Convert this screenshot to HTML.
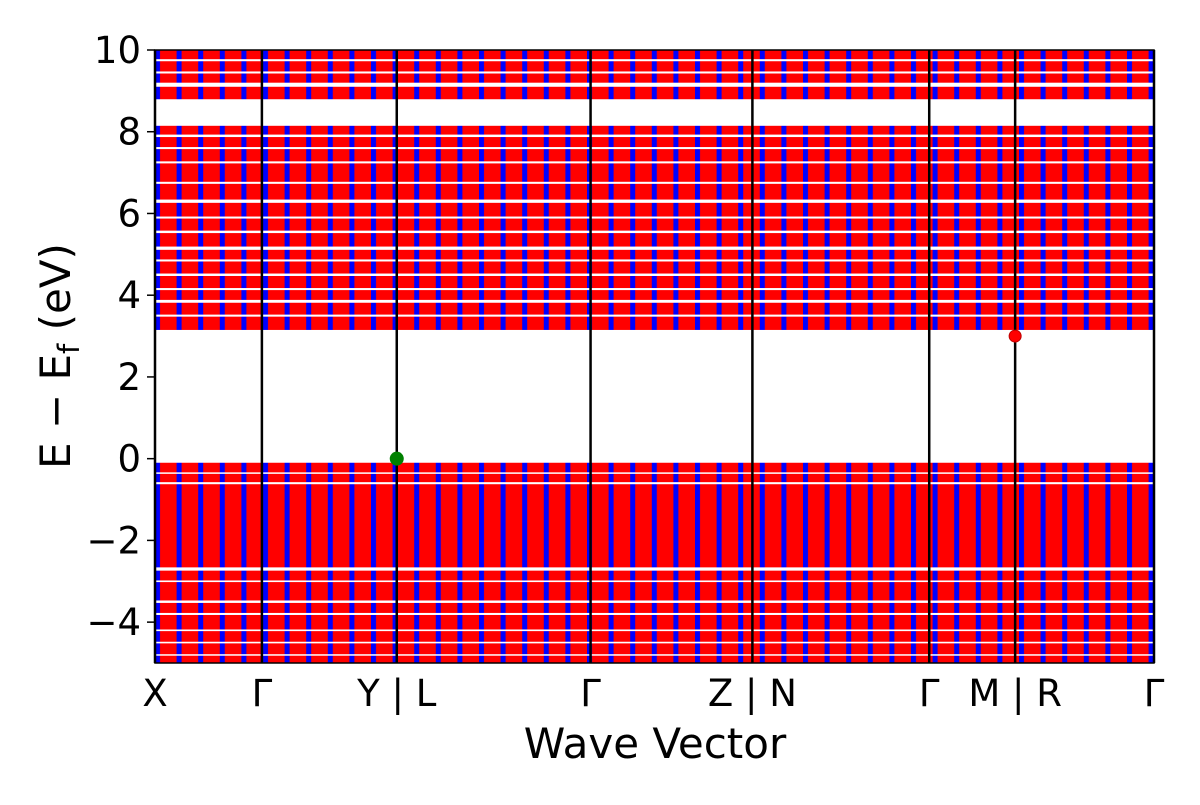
<!DOCTYPE html>
<html><head><meta charset="utf-8"><style>
body{margin:0;background:#fff;width:1200px;height:800px;overflow:hidden}
text{font-family:"DejaVu Sans","Liberation Sans",sans-serif;fill:#000}
</style></head><body>
<svg id="c" width="1200" height="800">
<defs>
<pattern id="stripes" x="155" y="0" width="21.6" height="10" patternUnits="userSpaceOnUse">
<rect width="21.6" height="10" fill="#ff0000"/><rect x="0" width="5" height="10" fill="#0000ff"/>
</pattern>
</defs>
<g id="plot"></g>
<g id="axes"></g>
</svg>
<script>
const kLabels=["X","Γ","Y | L","Γ","Z | N","Γ","M | R","Γ"];
const kPos=[0,0.107,0.242,0.436,0.598,0.775,0.861,1.0];
const yTicks=[-4,-2,0,2,4,6,8,10];
const valenceRange=[-5,-0.1];
const conductionRange=[3.15,10];
const gapCenters=[9.75,9.45,9.15,8.47,7.9,7.6,7.25,6.75,6.3,5.9,5.55,5.15,4.85,4.5,4.15,3.85,3.5,-0.35,-0.6,-2.7,-3.0,-3.5,-3.8,-4.2,-4.5,-4.8];
const gapWidths=[0.05,0.05,0.1,0.65,0.06,0.05,0.05,0.05,0.08,0.05,0.06,0.08,0.05,0.06,0.05,0.07,0.05,0.03,0.05,0.08,0.04,0.06,0.05,0.04,0.04,0.03];
const vbm=[0.242,0]; const cbm=[0.861,3.0];
const X0=155,X1=1154,Y0=50,Y1=663;
const sx=k=>X0+k*(X1-X0);
const sy=e=>Y0+(10-e)/15*(Y1-Y0);
const NS="http://www.w3.org/2000/svg";
function mk(t,a,p){const e=document.createElementNS(NS,t);for(const k in a)e.setAttribute(k,a[k]);p.appendChild(e);return e;}
const plot=document.getElementById('plot'),axes=document.getElementById('axes');
[valenceRange,conductionRange].forEach(r=>{
 const b=mk('rect',{x:X0,y:sy(r[1]),width:X1-X0,height:sy(r[0])-sy(r[1]),fill:'url(#stripes)'},plot);
 
 
});
gapCenters.forEach((g,i)=>{
 const r=mk('rect',{x:X0,y:sy(g+gapWidths[i]/2),width:X1-X0,height:Math.max(1.5,sy(g-gapWidths[i]/2)-sy(g+gapWidths[i]/2)),fill:'#fff'},plot);
 
 
});
kPos.forEach((k,i)=>{
 const l=mk('line',{x1:sx(k),x2:sx(k),y1:Y0,y2:Y1,stroke:'#000','stroke-width':2.5},axes);
 
 
 const t=mk('text',{x:sx(k),y:706,'font-size':37,'text-anchor':'middle'},axes);
 t.textContent=kLabels[i];
 
 
});
const fr=mk('rect',{x:X0,y:Y0,width:X1-X0,height:Y1-Y0,fill:'none',stroke:'#000','stroke-width':1.5},axes);


yTicks.forEach(v=>{
 mk('line',{x1:X0-8,x2:X0,y1:sy(v),y2:sy(v),stroke:'#000','stroke-width':1.5},axes);
 const t=mk('text',{x:X0-14,y:sy(v)+13,'font-size':37,'text-anchor':'end'},axes);
 t.textContent=(v<0?'−':'')+Math.abs(v);
 
 
});
const d1=mk('circle',{cx:sx(vbm[0]),cy:sy(vbm[1]),r:7,fill:'#008000'},axes);


const d2=mk('circle',{cx:sx(cbm[0]),cy:sy(cbm[1]),r:6,fill:'#ff0000',stroke:'#b00','stroke-width':1},axes);


const xl=mk('text',{x:655,y:758,'font-size':42,'text-anchor':'middle'},axes);
xl.textContent='Wave Vector';


const yl=mk('text',{x:0,y:0,'font-size':42,'text-anchor':'middle',transform:'translate(70,356) rotate(-90)'},axes);
yl.innerHTML='E − E<tspan font-size="29" dy="9">f</tspan><tspan dy="-9"> (eV)</tspan>';


</script>
</body></html>
